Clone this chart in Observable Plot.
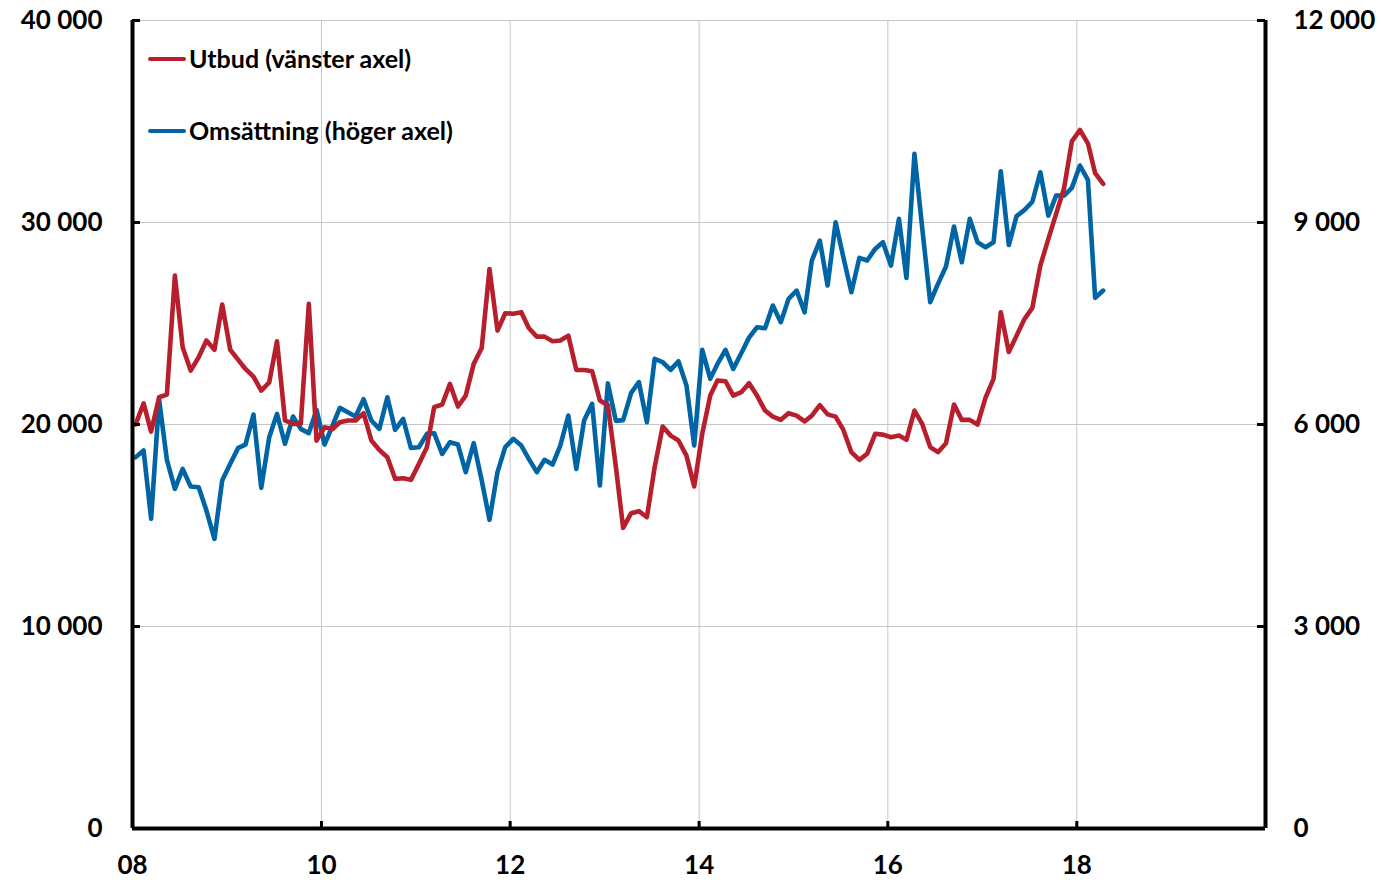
<!DOCTYPE html>
<html><head><meta charset="utf-8">
<script src="https://cdn.jsdelivr.net/npm/d3@7"></script>
<script src="https://cdn.jsdelivr.net/npm/@observablehq/plot@0.6"></script>
<style>
body{margin:0;background:#fff;}
#wrap{position:relative;width:1381px;height:880px;}
.leg{position:absolute;left:148px;display:flex;align-items:center;font-family:Lato,"Open Sans",sans-serif;font-weight:700;font-size:25px;color:#000;line-height:1;}
.sw{width:38px;height:4px;border-radius:2px;margin-right:3px}
</style></head><body><div id="wrap"></div><script>
// Monthly data, Jan 2008 – Apr 2018
const startYear = 2008;
const utbud = [
20000,21050,19650,21350,21480,27370,23830,22670,23330,24160,23700,25940,
23700,23200,22750,22370,21680,22090,24120,20200,20030,20030,25970,19200,
19860,19780,20110,20200,20200,20560,19210,18740,18380,17310,17340,17260,
18050,18880,20860,20990,22010,20890,21430,23000,23790,27700,24650,25510,
25480,25560,24780,24350,24350,24120,24160,24400,22700,22700,22640,21190,
20950,17900,14880,15610,15710,15410,17890,19900,19450,19210,18460,16930,
19540,21430,22180,22140,21430,21600,22040,21430,20690,20390,20230,20560,
20440,20150,20440,20960,20500,20390,19730,18630,18250,18550,19540,19500,
19370,19450,19240,20690,20030,18880,18630,19070,20990,20230,20230,20000,
21330,22260,25560,23590,24400,25230,25770,27870,29190,30430,31710,34020,
34580,33920,32440,31910];
const omsattning = [
5514,5613,4599,6366,5475,5044,5341,5079,5069,4722,4302,5168,
5416,5653,5702,6148,5059,5811,6158,5712,6118,5935,5871,6217,
5702,5985,6247,6183,6118,6375,6059,5935,6405,5920,6084,5653,
5663,5861,5871,5564,5737,5702,5292,5722,5168,4584,5292,5663,
5787,5688,5490,5292,5475,5405,5688,6133,5341,6059,6307,5094,
6610,6054,6065,6470,6628,6034,6975,6925,6811,6940,6579,5688,
7108,6678,6900,7108,6826,7058,7290,7444,7430,7767,7519,7866,
7989,7667,8435,8732,8064,9004,8484,7964,8475,8435,8608,8707,
8361,9054,8175,10019,8920,7816,8088,8346,8940,8410,9054,8707,
8633,8707,9761,8665,9095,9187,9308,9746,9103,9400,9400,9514,
9846,9633,7881,7989];
const leftTicks = [0,10000,20000,30000,40000];
const rightTicks = [0,3000,6000,9000,12000];
const xTickYears = [2008,2010,2012,2014,2016,2018];
const xDomainYears = [2008,2020];
const seriesNames = ["Utbud (vänster axel)","Omsättning (höger axel)"];
const colors = ["#B81F2D","#0064A5"];

const W = 1381, H = 880;
const mL = 132, mR = 116, mT = 20, mB = 52;
const plotW = W - mL - mR, plotH = H - mT - mB;
const leftMax = leftTicks[leftTicks.length-1], rightMax = rightTicks[rightTicks.length-1];
const k = leftMax / rightMax;
const toDate = (i) => new Date(Date.UTC(startYear, i, 13));
const redData = utbud.map((v,i)=>({date: toDate(i), v}));
const blueData = omsattning.map((v,i)=>({date: toDate(i), v: v*k}));
const xTicks = xTickYears.map(y=>new Date(Date.UTC(y,0,1)));
const xDom = xDomainYears.map(y=>new Date(Date.UTC(y,0,1)));
const fmt = d => d3.format(",")(d).replace(/,/g," ");

const chart = Plot.plot({
  width: W, height: H,
  marginLeft: mL, marginRight: mR, marginTop: mT, marginBottom: mB,
  style: {fontFamily: "Lato, 'Open Sans', sans-serif", fontSize: "26px", fontWeight: 700, color: "#000", background: "#fff"},
  x: {type: "utc", domain: xDom, label: null},
  y: {domain: [0, leftMax], label: null},
  marks: [
    Plot.gridY(leftTicks.slice(1), {stroke: "#c6c6c6", strokeOpacity: 1, strokeWidth: 1}),
    Plot.gridX(xTicks.slice(1), {stroke: "#c6c6c6", strokeOpacity: 1, strokeWidth: 1}),
    Plot.line(blueData, {x: "date", y: "v", stroke: colors[1], strokeWidth: 4.6, strokeLinejoin: "round"}),
    Plot.line(redData, {x: "date", y: "v", stroke: colors[0], strokeWidth: 4.6, strokeLinejoin: "round"}),
    Plot.ruleX([xDom[0]], {stroke: "#000", strokeWidth: 4}),
    Plot.ruleX([xDom[1]], {stroke: "#000", strokeWidth: 4}),
    Plot.ruleY([0], {stroke: "#000", strokeWidth: 4}),
    Plot.tickY(leftTicks, {y: d=>d, insetRight: plotW - 8, stroke: "#000", strokeWidth: 3}),
    Plot.tickY(leftTicks, {y: d=>d, insetLeft: plotW - 8, stroke: "#000", strokeWidth: 3}),
    Plot.tickX(xTicks.slice(1), {x: d=>d, insetTop: plotH - 7, stroke: "#000", strokeWidth: 3}),
    Plot.axisY(leftTicks, {anchor: "left", tickSize: 0, tickPadding: 30, tickFormat: fmt, label: null, fontSize: 26, fontWeight: 700}),
    Plot.axisY(leftTicks, {anchor: "right", tickSize: 0, tickPadding: 28, tickFormat: d => fmt(d / k), label: null, fontSize: 26, fontWeight: 700}),
    Plot.axisX(xTicks, {anchor: "bottom", tickSize: 0, tickPadding: 27, tickFormat: d3.utcFormat("%y"), label: null, fontSize: 26, fontWeight: 700})
  ]
});
const wrap = document.getElementById("wrap");
wrap.appendChild(chart);
const legTops = [46, 118];
seriesNames.forEach((name,i)=>{
  const d = document.createElement("div");
  d.className = "leg";
  d.style.top = legTops[i] + "px";
  d.innerHTML = `<span class="sw" style="background:${colors[i]}"></span><span>${name}</span>`;
  wrap.appendChild(d);
});
</script></body></html>
